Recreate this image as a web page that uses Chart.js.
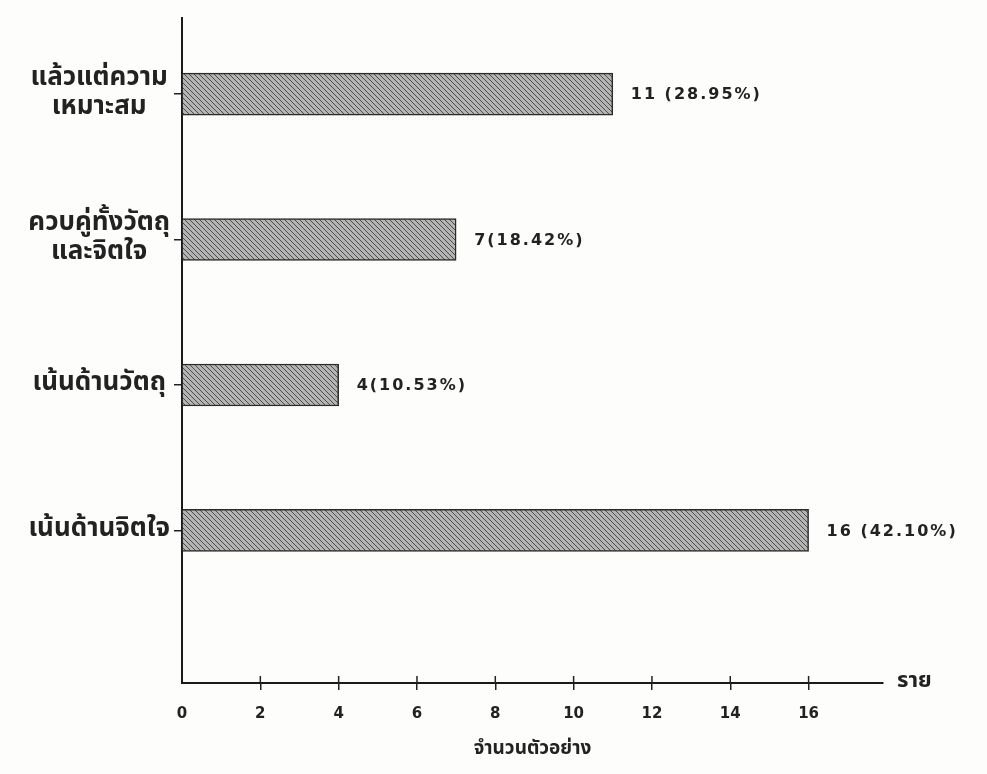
<!DOCTYPE html>
<html>
<head>
<meta charset="utf-8">
<script src="https://cdn.jsdelivr.net/npm/chart.js@4.4.1/dist/chart.umd.min.js"></script>
<style>
  html, body { margin: 0; padding: 0; background: #fff; }
  #wrap { width: 987px; height: 774px; }
</style>
</head>
<body>
<div id="wrap"><canvas id="myChart" width="987" height="774"></canvas></div>
<script>
// Données du graphique
const categories = [
  ['แล้วแต่ความ', 'เหมาะสม'],
  ['ควบคู่ทั้งวัตถุ', 'และจิตใจ'],
  'เน้นด้านวัตถุ',
  'เน้นด้านจิตใจ'
];
const counts = [11, 7, 4, 16];
const percents = ['28.95', '18.42', '10.53', '42.10'];
const xTicks = [0, 2, 4, 6, 8, 10, 12, 14, 16];
const xTitle = 'จำนวนตัวอย่าง';
const unitLabel = 'ราย';

const thaiFont = "'Noto Sans Thai', 'Noto Sans', sans-serif";
const numFont = "'DejaVu Sans', sans-serif";
const ink = '#222';

// motif hachuré pour les barres
function makeHatch() {
  const c = document.createElement('canvas');
  c.width = 5; c.height = 5;
  const g = c.getContext('2d');
  g.fillStyle = '#b4b4b4';
  g.fillRect(0, 0, 5, 5);
  g.strokeStyle = '#4a4a4a';
  g.lineWidth = 1;
  g.beginPath();
  g.moveTo(0, 0); g.lineTo(5, 5);
  g.moveTo(-1, 4); g.lineTo(1, 6);
  g.moveTo(4, -1); g.lineTo(6, 1);
  g.stroke();
  return g.createPattern(c, 'repeat');
}

function valueLabel(i) {
  return counts[i] + (counts[i] >= 10 ? ' ' : '') + '(' + percents[i] + '%)';
}

const extras = {
  id: 'extras',
  beforeDraw(chart) {
    const ctx = chart.ctx;
    ctx.save();
    ctx.fillStyle = '#fdfdfc';
    ctx.fillRect(0, 0, chart.width, chart.height);
    ctx.restore();
  },
  afterDraw(chart) {
    const { ctx, chartArea } = chart;
    const xs = chart.scales.x;
    ctx.save();
    // petites graduations au-dessus de l'axe des x
    ctx.strokeStyle = ink;
    ctx.lineWidth = 1.5;
    xs.ticks.forEach(t => {
      if (t.value === 0) return;
      const px = xs.getPixelForValue(t.value);
      ctx.beginPath();
      ctx.moveTo(px, chartArea.bottom);
      ctx.lineTo(px, chartArea.bottom - 7);
      ctx.stroke();
    });
    // unité en bout d'axe
    ctx.fillStyle = ink;
    ctx.font = 'bold 22px ' + thaiFont;
    ctx.textBaseline = 'middle';
    ctx.textAlign = 'left';
    ctx.fillText(unitLabel, chartArea.right + 14, chartArea.bottom);
    // étiquettes des valeurs
    ctx.font = 'bold 16px ' + numFont;
    ctx.letterSpacing = '2px';
    chart.getDatasetMeta(0).data.forEach((bar, i) => {
      ctx.fillText(valueLabel(i), bar.x + 18, bar.y + 1);
    });
    ctx.letterSpacing = '0px';
    ctx.restore();
  }
};

const ctx = document.getElementById('myChart').getContext('2d');
const myChart = new Chart(ctx, {
  type: 'bar',
  data: {
    datasets: [{
      data: counts.map((v, i) => ({ x: v, y: i })),
      backgroundColor: makeHatch(),
      borderColor: '#2a2a2a',
      borderWidth: 1.5,
      barThickness: 42
    }]
  },
  options: {
    indexAxis: 'y',
    responsive: false,
    animation: false,
    layout: { padding: { top: 8, left: 8, right: 104, bottom: 8 } },
    plugins: {
      legend: { display: false },
      tooltip: { enabled: false }
    },
    scales: {
      x: {
        type: 'linear',
        min: 0,
        max: 17.9,
        afterBuildTicks: s => { s.ticks = xTicks.map(v => ({ value: v })); },
        afterFit: s => { s.height = 83; },
        grid: {
          drawOnChartArea: false,
          tickLength: 7,
          tickColor: c => (c.tick && c.tick.value === 0) ? 'rgba(0,0,0,0)' : ink,
          lineWidth: 1.5
        },
        border: { color: '#1a1a1a', width: 2 },
        ticks: {
          padding: 15,
          color: ink,
          font: { family: numFont, size: 15, weight: 'bold' }
        },
        title: {
          display: true,
          text: xTitle,
          color: ink,
          font: { family: thaiFont, size: 19, weight: 'bold' },
          padding: { top: 4, bottom: 4 }
        }
      },
      y: {
        type: 'linear',
        reverse: true,
        offset: false,
        min: -0.521,
        max: 4.049,
        afterBuildTicks: s => { s.ticks = categories.map((c, i) => ({ value: i })); },
        afterFit: s => { s.width = 174; },
        grid: {
          offset: false,
          drawOnChartArea: false,
          tickLength: 8,
          color: ink,
          lineWidth: 1.5
        },
        border: { color: '#1a1a1a', width: 2 },
        ticks: {
          padding: 4,
          crossAlign: 'center',
          color: ink,
          font: { family: thaiFont, size: 26, weight: 'bold', lineHeight: 1.1 },
          callback: v => categories[v]
        }
      }
    }
  },
  plugins: [extras]
});
</script>
</body>
</html>
